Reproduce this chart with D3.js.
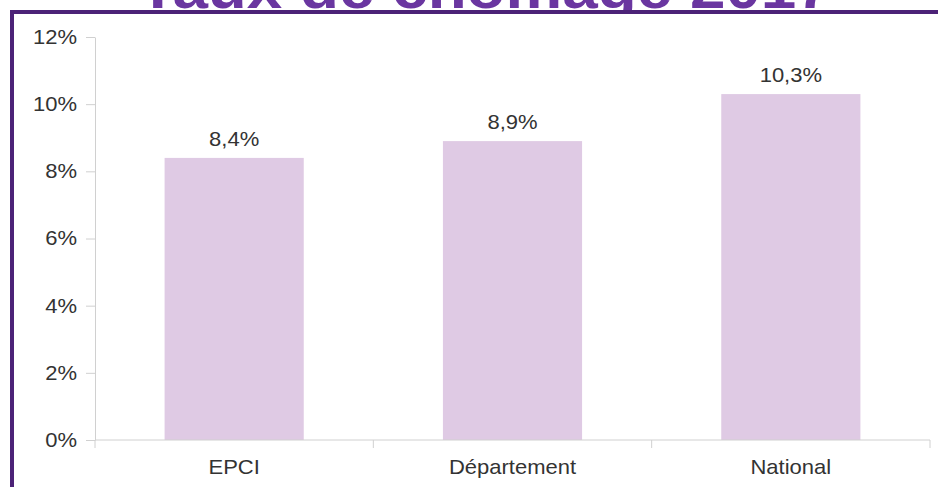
<!DOCTYPE html>
<html>
<head>
<meta charset="utf-8">
<script src="https://cdn.jsdelivr.net/npm/d3@7"></script>
<style>
  body { margin: 0; background: #fff; }
  text { font-family: "Liberation Sans", Arial, sans-serif; }
  .wide { transform-box: fill-box; transform: scaleX(1.1); }
</style>
</head>
<body>
<div id="chart"></div>
<script>
// data
var categories = ["EPCI", "Département", "National"];
var values = [8.4, 8.9, 10.3];
var yTicks = [0, 2, 4, 6, 8, 10, 12];
var title = "Taux de chômage 2017";

var W = 938, H = 487;
var margin = {top: 37, left: 95, right: 8, bottom: 47};

var fr = d3.formatLocale({decimal: ",", thousands: " ", grouping: [3], currency: ["", "€"]});
var pct1 = fr.format(".1f");

var svg = d3.select("#chart")
  .append("svg")
    .attr("width", W)
    .attr("height", H);

// title (partly hidden behind the frame)
svg.append("text")
  .attr("class", "wide")
  .attr("x", 485)
  .attr("y", 8)
  .attr("text-anchor", "middle")
  .style("transform-origin", "center")
  .style("font-size", "58px")
  .style("font-weight", "bold")
  .style("fill", "#6a36a0")
  .text(title);

// frame
svg.append("rect")
  .attr("x", 12)
  .attr("y", 12)
  .attr("width", W + 20)
  .attr("height", H + 20)
  .attr("fill", "#fff")
  .attr("stroke", "#4c2277")
  .attr("stroke-width", 4);

var x = d3.scaleBand()
  .domain(categories)
  .range([margin.left, W - margin.right])
  .paddingInner(0.5)
  .paddingOuter(0.25);

var y = d3.scaleLinear()
  .domain([0, 12])
  .range([H - margin.bottom, margin.top]);

// y axis
var gy = svg.append("g")
  .attr("transform", "translate(" + margin.left + ",0)")
  .call(d3.axisLeft(y).tickValues(yTicks).tickSizeInner(9).tickSizeOuter(0).tickPadding(9)
    .tickFormat(function (d) { return d + "%"; }));
gy.select(".domain").attr("stroke", "#d0d0d0");
gy.selectAll(".tick line").attr("stroke", "#d0d0d0");
gy.selectAll(".tick text")
  .attr("class", "wide")
  .style("transform-origin", "right")
  .style("font-size", "20px")
  .style("fill", "#333");

// bars
svg.append("g")
  .selectAll("rect")
  .data(values)
  .enter()
  .append("rect")
    .attr("x", function (d, i) { return x(categories[i]); })
    .attr("y", function (d) { return y(d); })
    .attr("width", x.bandwidth())
    .attr("height", function (d) { return y(0) - y(d); })
    .style("fill", "#dfcae4");

// value labels
svg.append("g")
  .selectAll("text")
  .data(values)
  .enter()
  .append("text")
    .attr("class", "wide")
    .style("transform-origin", "center")
    .attr("x", function (d, i) { return x(categories[i]) + x.bandwidth() / 2; })
    .attr("y", function (d) { return y(d) - 12; })
    .attr("text-anchor", "middle")
    .style("font-size", "20px")
    .style("fill", "#333")
    .text(function (d) { return pct1(d) + "%"; });

// x axis
var gx = svg.append("g")
  .attr("transform", "translate(0," + y(0) + ")");
gx.append("line")
  .attr("x1", x.range()[0]).attr("x2", x.range()[1])
  .attr("stroke", "#d0d0d0");
gx.selectAll(".sep")
  .data(d3.range(categories.length + 1))
  .enter()
  .append("line")
    .attr("x1", function (i) { return x.range()[0] + i * x.step(); })
    .attr("x2", function (i) { return x.range()[0] + i * x.step(); })
    .attr("y1", 0).attr("y2", 8)
    .attr("stroke", "#d0d0d0");
gx.selectAll(".cat")
  .data(categories)
  .enter()
  .append("text")
    .attr("class", "wide")
    .style("transform-origin", "center")
    .attr("x", function (d) { return x(d) + x.bandwidth() / 2; })
    .attr("y", 34)
    .attr("text-anchor", "middle")
    .style("font-size", "20px")
    .style("fill", "#333")
    .text(function (d) { return d; });
</script>
</body>
</html>
